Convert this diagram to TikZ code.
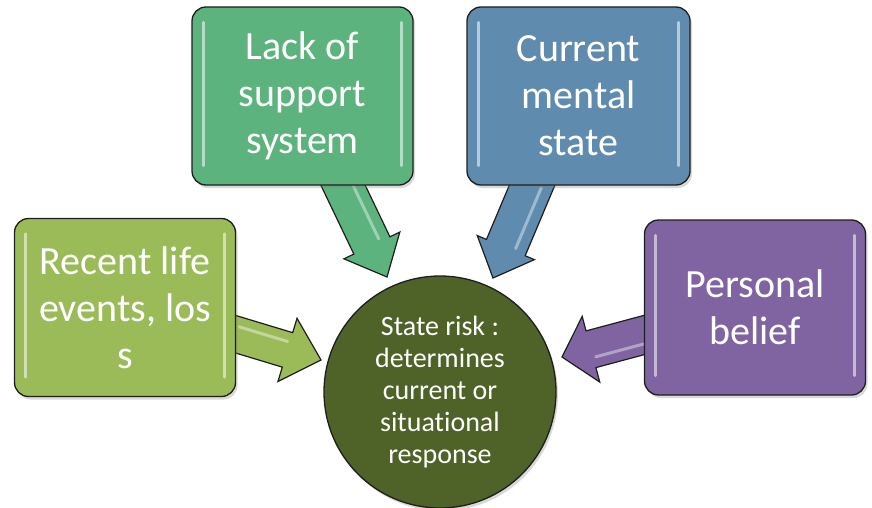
\documentclass[tikz,border=0pt]{standalone}
\usepackage{fontspec}
\setmainfont{Carlito}[Ligatures=NoCommon]
\usetikzlibrary{calc,shadows}
\definecolor{cOlive}{HTML}{9BBB59}
\definecolor{cSea}{HTML}{5DB37E}
\definecolor{cSteel}{HTML}{5F8BAE}
\definecolor{cPurple}{HTML}{8064A2}
\definecolor{cDark}{HTML}{4F6228}
\definecolor{cDarkMid}{HTML}{5A6E30}
\definecolor{cDarkRim}{HTML}{8A9F5C}
\definecolor{cEdge}{HTML}{1E1E1E}
\pgfdeclareradialshading{rimshade}{\pgfpoint{0bp}{0bp}}{color(0bp)=(cDark); color(40bp)=(cDark); color(47bp)=(cDarkMid); color(50bp)=(cDarkRim)}
\tikzset{
  boxstyle/.style={draw=cEdge, line width=1.3pt, rounded corners=14pt, text=white,
    align=center, inner sep=0pt, minimum width=221pt, minimum height=178pt,
    font=\fontsize{40}{47}\selectfont,
    drop shadow={shadow xshift=2pt, shadow yshift=-3pt, opacity=0.3}},
  hubstyle/.style={circle, draw=cEdge, line width=1.3pt, shading=rimshade, text=white,
    align=center, inner sep=0pt, minimum size=232pt,
    font=\fontsize{28}{32}\selectfont,
    drop shadow={shadow xshift=2pt, shadow yshift=-3pt, opacity=0.3}},
  arrowstyle/.style={draw=cEdge, line width=1.2pt, line join=miter},
  glossline/.style={draw=white, draw opacity=0.55, line width=3pt, line cap=round},
}
\newcommand\blockarrow[6]{% start, tip, half shaft, half head, head length, colour
  \coordinate (ba-n) at ($(#2)!#5pt!(#1)$);
  \draw[arrowstyle, fill=#6]
    ($(#1)!#3pt!90:(#2)$) -- ($(ba-n)!#3pt!90:(#2)$) -- ($(ba-n)!#4pt!90:(#2)$)
    -- (#2) -- ($(ba-n)!#4pt!-90:(#2)$) -- ($(ba-n)!#3pt!-90:(#2)$)
    -- ($(#1)!#3pt!-90:(#2)$) -- cycle;
  \draw[glossline, draw opacity=0.4]
    ($($(#1)!0.3!(ba-n)$)!0.45*#3pt!90:(#2)$) -- ($($(#1)!0.97!(ba-n)$)!0.45*#3pt!90:(#2)$);
}
\begin{document}
\begin{tikzpicture}[x=1pt,y=-1pt]
\useasboundingbox (0,0) rectangle (872,508);
% arrow end points
\coordinate (a1s) at (215,328);
\coordinate (a1e) at (321,360);
\coordinate (a2s) at (330,158);
\coordinate (a2e) at (387,277);
\coordinate (a3s) at (544,157);
\coordinate (a3e) at (493,278);
\coordinate (a4s) at (674,327);
\coordinate (a4e) at (562,357);
% block arrows
\blockarrow{a1s}{a1e}{18}{33}{35}{cOlive}
\blockarrow{a2s}{a2e}{20}{31}{35}{cSea}
\blockarrow{a3s}{a3e}{21}{31}{33}{cSteel}
\blockarrow{a4s}{a4e}{19}{34}{30}{cPurple}
% boxes
\node[boxstyle, fill=cOlive] (recent) at (125,307.5) {Recent life\\events, los\\s};
\node[boxstyle, fill=cSea] (lack) at (302.5,96) {Lack of\\support\\system};
\node[boxstyle, fill=cSteel, minimum width=223pt] (mental) at (578.5,96) {Current\\mental\\state};
\node[boxstyle, fill=cPurple, minimum height=175pt] (belief) at (755,307.5) {Personal\\belief};
% hub
\node[hubstyle] (hub) at (440,392) {State risk :\\determines\\current or\\situational\\response};
% gloss bars on boxes
\foreach \b in {recent,lack,mental,belief}{
  \draw[glossline] ([xshift=12pt,yshift=-16pt]\b.north west) -- ([xshift=12pt,yshift=20pt]\b.south west);
  \draw[glossline] ([xshift=-12pt,yshift=-16pt]\b.north east) -- ([xshift=-12pt,yshift=20pt]\b.south east);
}
\end{tikzpicture}
\end{document}
